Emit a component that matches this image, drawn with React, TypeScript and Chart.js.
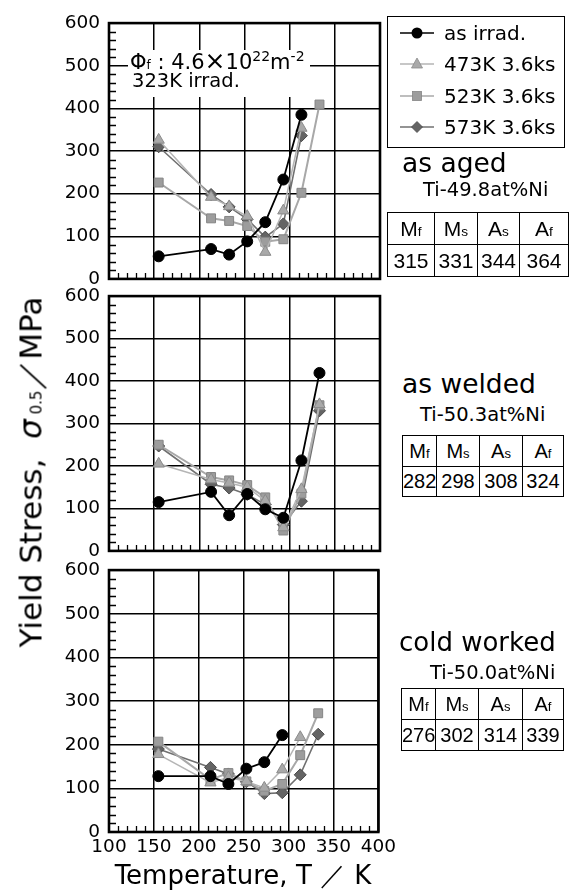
import React, { useEffect, useRef } from 'react';
import { Chart, registerables } from 'chart.js';

Chart.register(...registerables);

// ---------- data ----------
const TEMPS = [155, 213, 233, 253, 273, 293, 313, 333];
const SERIES_LABELS = ['as irrad.', '473K 3.6ks', '523K 3.6ks', '573K 3.6ks'];

// as aged (Ti-49.8at%Ni)
const AGED_IRRAD = [53, 70, 57, 88, 133, 233, 385, null];
const AGED_473 = [326, 192, 170, 147, 63, 160, 354, null];
const AGED_523 = [226, 142, 136, 124, 87, 93, 202, 409];
const AGED_573 = [310, 198, 169, 140, 98, 129, 336, null];

// as welded (Ti-50.3at%Ni)
const WELD_IRRAD = [115, 139, 84, 134, 98, 78, 213, 419];
const WELD_473 = [205, 168, 160, 150, 118, 55, 145, 345];
const WELD_523 = [250, 174, 166, 155, 126, 48, 135, 343];
const WELD_573 = [247, 157, 148, 133, 109, 62, 117, 330];

// cold worked (Ti-50.0at%Ni)
const COLD_IRRAD = [128, 128, 110, 145, 160, 222, null, null];
const COLD_473 = [178, 113, 125, 116, 101, 143, 217, null];
const COLD_523 = [207, 120, 135, 116, 94, 110, 176, 272];
const COLD_573 = [190, 148, 133, 115, 88, 90, 131, 224];

const X_MIN = 100, X_MAX = 400, X_STEP = 50, X_MINOR = 10;
const Y_MIN = 0, Y_MAX = 600, Y_STEP = 100, Y_MINOR = 20;

const TABLE_HEAD = [['M', 'f'], ['M', 's'], ['A', 's'], ['A', 'f']];
const AGED_TEMPS = [315, 331, 344, 364];
const WELD_TEMPS = [282, 298, 308, 324];
const COLD_TEMPS = [276, 302, 314, 339];

const FONT = '"DejaVu Sans", "Liberation Sans", Arial, sans-serif';
const FONT2 = '"Liberation Sans", Arial, sans-serif';

const STYLES = [
  { pointStyle: 'circle', fill: '#000', line: '#000', border: '#000', radius: 5.5, width: 1.8 },
  { pointStyle: 'triangle', fill: '#a9a9a9', line: '#b5b5b5', border: '#8a8a8a', radius: 6.5, width: 1.5 },
  { pointStyle: 'rect', fill: '#9d9d9d', line: '#a8a8a8', border: '#858585', radius: 6.3, width: 2 },
  { pointStyle: 'rectRot', fill: '#646464', line: '#707070', border: '#4a4a4a', radius: 6, width: 1.6 },
];

function toPoints(vals: (number | null)[]) {
  const pts: { x: number; y: number }[] = [];
  vals.forEach((v, i) => {
    if (v !== null) pts.push({ x: TEMPS[i], y: v });
  });
  return pts;
}

const framePlugin = {
  id: 'frame',
  beforeDatasetsDraw(chart: any) {
    const { ctx, chartArea: a, scales } = chart;
    const xs = scales.x, ys = scales.y;
    ctx.save();
    ctx.strokeStyle = '#000';
    ctx.lineWidth = 1.3;
    ctx.beginPath();
    for (let v = Y_MIN; v <= Y_MAX; v += Y_MINOR) {
      if (v % Y_STEP === 0) continue;
      const py = Math.round(ys.getPixelForValue(v)) + 0.5;
      ctx.moveTo(a.left, py);
      ctx.lineTo(a.left + 7, py);
    }
    for (let v = X_MIN; v <= X_MAX; v += X_MINOR) {
      if (v % X_STEP === 0) continue;
      const px = Math.round(xs.getPixelForValue(v)) + 0.5;
      ctx.moveTo(px, a.bottom);
      ctx.lineTo(px, a.bottom - 6);
    }
    ctx.stroke();
    ctx.lineWidth = 2.6;
    ctx.strokeRect(a.left, a.top, a.right - a.left, a.bottom - a.top);
    ctx.restore();
  },
};

type PanelProps = { top: number; bottom: number; series: (number | null)[][]; showX: boolean };

const PAD = 14;
const XH = 30;
const CW = 400;

function Panel({ top, bottom, series, showX }: PanelProps) {
  const ref = useRef<HTMLCanvasElement>(null);
  const h = bottom - top + PAD + (showX ? XH : PAD);
  useEffect(() => {
    if (!ref.current) return;
    const chart = new Chart(ref.current, {
      type: 'line',
      data: {
        datasets: series.map((vals, i) => ({
          label: SERIES_LABELS[i],
          data: toPoints(vals),
          borderColor: STYLES[i].line,
          backgroundColor: STYLES[i].fill,
          borderWidth: STYLES[i].width,
          pointStyle: STYLES[i].pointStyle as any,
          pointRadius: STYLES[i].radius,
          pointBackgroundColor: STYLES[i].fill,
          pointBorderColor: STYLES[i].border,
          pointBorderWidth: 1,
          tension: 0,
          fill: false,
        })),
      },
      options: {
        animation: false,
        responsive: false,
        maintainAspectRatio: false,
        layout: { padding: { top: PAD, right: 20, bottom: showX ? 0 : PAD, left: 0 } },
        plugins: { legend: { display: false }, tooltip: { enabled: false } },
        scales: {
          x: {
            type: 'linear',
            min: X_MIN,
            max: X_MAX,
            ticks: {
              stepSize: X_STEP,
              display: showX,
              color: '#000',
              font: { family: FONT, size: 18.5 },
              padding: 4,
              maxRotation: 0,
            },
            grid: { color: '#000', lineWidth: 1.5, drawTicks: false },
            border: { display: false },
            afterFit: (s: any) => {
              s.height = showX ? XH : 0;
            },
          },
          y: {
            type: 'linear',
            min: Y_MIN,
            max: Y_MAX,
            ticks: {
              stepSize: Y_STEP,
              color: '#000',
              font: { family: FONT, size: 18.5 },
              padding: 9,
            },
            grid: { color: '#000', lineWidth: 1.5, drawTicks: false },
            border: { display: false },
            afterFit: (s: any) => {
              s.width = 109;
            },
          },
        },
      },
      plugins: [framePlugin],
    } as any);
    return () => chart.destroy();
  }, []);
  return (
    <canvas
      ref={ref}
      width={CW}
      height={h}
      style={{ position: 'absolute', left: 0, top: top - PAD, width: CW, height: h }}
    />
  );
}

function Marker({ i }: { i: number }) {
  const s = STYLES[i];
  const cx = 17, cy = 8;
  let shape: any = null;
  if (i === 0) shape = <circle cx={cx} cy={cy} r={5.5} fill={s.fill} />;
  if (i === 1) shape = <polygon points={`${cx},${cy - 6} ${cx + 5.5},${cy + 4} ${cx - 5.5},${cy + 4}`} fill={s.fill} stroke={s.border} strokeWidth={0.8} />;
  if (i === 2) shape = <rect x={cx - 4.5} y={cy - 4.5} width={9} height={9} fill={s.fill} stroke={s.border} strokeWidth={0.8} />;
  if (i === 3) shape = <polygon points={`${cx},${cy - 5.5} ${cx + 5.5},${cy} ${cx},${cy + 5.5} ${cx - 5.5},${cy}`} fill={s.fill} stroke={s.border} strokeWidth={0.8} />;
  return (
    <svg width={34} height={16} style={{ position: 'absolute', left: 12, top: -8 }}>
      <line x1={0} y1={cy} x2={34} y2={cy} stroke={s.line} strokeWidth={i === 0 ? 1.6 : 1.3} />
      {shape}
    </svg>
  );
}

function Text({ left, baseline, size, children }: any) {
  return (
    <div
      style={{
        position: 'absolute',
        left,
        top: baseline - 0.846 * size,
        fontSize: size,
        lineHeight: 1,
        fontFamily: FONT,
        whiteSpace: 'nowrap',
        color: '#000',
      }}
    >
      {children}
    </div>
  );
}

function TTable({ left, top, cols, rowH, values, size }: any) {
  const cell: any = {
    border: '1.5px solid #000',
    padding: 0,
    textAlign: 'center',
    verticalAlign: 'middle',
    height: rowH,
    whiteSpace: 'nowrap',
    fontFamily: FONT2,
    fontSize: size,
    lineHeight: 1,
    overflow: 'visible',
  };
  return (
    <table
      style={{
        position: 'absolute',
        left,
        top,
        borderCollapse: 'collapse',
        tableLayout: 'fixed',
        width: cols.reduce((a: number, b: number) => a + b, 0),
      }}
    >
      <colgroup>
        {cols.map((w: number, i: number) => (
          <col key={i} style={{ width: w }} />
        ))}
      </colgroup>
      <tbody>
        <tr>
          {TABLE_HEAD.map((hd, i) => (
            <td key={i} style={cell}>
              {hd[0]}
              <span style={{ fontSize: size * 0.65 }}>{hd[1]}</span>
            </td>
          ))}
        </tr>
        <tr>
          {values.map((v: number, i: number) => (
            <td key={i} style={cell}>
              {v}
            </td>
          ))}
        </tr>
      </tbody>
    </table>
  );
}

export default function App() {
  return (
    <div
      style={{
        position: 'absolute',
        left: 0,
        top: 0,
        width: 575,
        height: 893,
        background: '#fff',
        overflow: 'hidden',
        fontFamily: FONT,
      }}
    >
      <Panel top={17} bottom={285} series={[AGED_IRRAD, AGED_473, AGED_523, AGED_573]} showX={false} />
      <Panel top={290} bottom={557} series={[WELD_IRRAD, WELD_473, WELD_523, WELD_573]} showX={false} />
      <Panel top={564} bottom={832} series={[COLD_IRRAD, COLD_473, COLD_523, COLD_573]} showX={true} />

      {/* annotation box in top panel */}
      <div style={{ position: 'absolute', left: 128, top: 50, width: 182, height: 47, background: '#fff' }} />
      <Text left={130} baseline={66} size={21}>
        Φ<span style={{ fontSize: 12 }}>f</span> : 4.6<span style={{ fontSize: 25 }}>×</span>10
        <span style={{ fontSize: 14, verticalAlign: '0.55em' }}>22</span>m
        <span style={{ fontSize: 14, verticalAlign: '0.55em' }}>-2</span>
      </Text>
      <Text left={132} baseline={87} size={19.5}>
        323K irrad.
      </Text>

      {/* legend */}
      <div
        style={{
          position: 'absolute',
          left: 387,
          top: 16,
          width: 178,
          height: 132,
          border: '1.5px solid #000',
          boxSizing: 'border-box',
        }}
      >
        {SERIES_LABELS.map((lab, i) => (
          <div key={i} style={{ position: 'absolute', left: 0, top: 16 + i * 31.3, width: '100%' }}>
            <Marker i={i} />
            <div
              style={{
                position: 'absolute',
                left: 56,
                top: 7 - 0.846 * 20,
                fontSize: 20,
                lineHeight: 1,
                whiteSpace: 'nowrap',
              }}
            >
              {lab}
            </div>
          </div>
        ))}
      </div>

      {/* panel labels */}
      <Text left={402} baseline={172} size={26.5}>as aged</Text>
      <Text left={423} baseline={196} size={19.5}>Ti-49.8at%Ni</Text>
      <TTable left={387} top={212} cols={[47, 43, 42, 49]} rowH={31} values={AGED_TEMPS} size={21} />

      <Text left={402} baseline={393} size={26.5}>as welded</Text>
      <Text left={420} baseline={421} size={19.5}>Ti-50.3at%Ni</Text>
      <TTable left={402} top={435} cols={[34, 43, 43, 41]} rowH={29.5} values={WELD_TEMPS} size={20} />

      <Text left={399} baseline={651} size={26}>cold worked</Text>
      <Text left={430} baseline={679} size={19.5}>Ti-50.0at%Ni</Text>
      <TTable left={401} top={688} cols={[34, 43, 44, 41]} rowH={30} values={COLD_TEMPS} size={20} />

      {/* axis titles */}
      <div
        style={{
          position: 'absolute',
          left: 31,
          top: 472,
          transform: 'translate(-50%, -50%) rotate(-90deg)',
          whiteSpace: 'nowrap',
          fontSize: 31,
          lineHeight: 1,
          fontFamily: FONT,
        }}
      >
        Yield Stress,&nbsp;&nbsp;<span style={{ fontStyle: 'italic' }}>σ</span>
        <span style={{ fontSize: 15 }}>&nbsp;0.5</span>／MPa
      </div>
      <div
        style={{
          position: 'absolute',
          left: 243,
          top: 884 - 0.846 * 26,
          transform: 'translateX(-50%)',
          whiteSpace: 'nowrap',
          fontSize: 26,
          lineHeight: 1,
          fontFamily: FONT,
        }}
      >
        Temperature, T ／ K
      </div>
    </div>
  );
}
